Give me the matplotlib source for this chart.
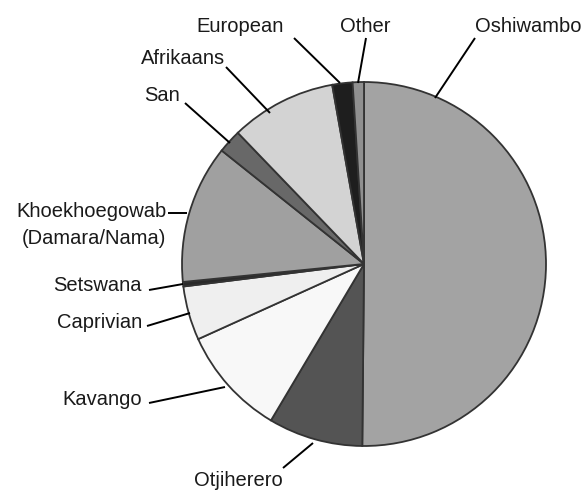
import matplotlib
matplotlib.use("Agg")
import matplotlib.pyplot as plt

# language shares (percent), clockwise from the top
languages = ["Oshiwambo", "Otjiherero", "Kavango", "Caprivian", "Setswana",
             "Khoekhoegowab\n(Damara/Nama)", "San", "Afrikaans", "European", "Other"]
shares = [50.2, 8.4, 9.7, 4.8, 0.4, 12.3, 2.1, 9.4, 1.8, 1.0]
shades = ["#a3a3a3", "#545454", "#f8f8f8", "#efefef", "#2a2a2a",
          "#a0a0a0", "#686868", "#d3d3d3", "#1e1e1e", "#909090"]

W, H = 586, 492

# label layout in pixel coords from the top-left corner:
# (text x, text baseline y, ha, leader start, leader end)
label_layout = {
    "Oshiwambo": (475, 32, "left", (475, 38), (435, 98)),
    "Otjiherero": (238, 486, "center", (283, 468), (313, 443)),
    "Kavango": (142, 405, "right", (149, 403), (225, 387)),
    "Caprivian": (142, 328, "right", (147, 326), (190, 313)),
    "Setswana": (142, 291, "right", (149, 290), (183, 284)),
    "Khoekhoegowab\n(Damara/Nama)": (167, 217, "right", (168, 213), (187, 213)),
    "San": (162, 101, "center", (185, 103), (230, 143)),
    "Afrikaans": (183, 64, "center", (226, 67), (270, 113)),
    "European": (240, 32, "center", (294, 38), (340, 83)),
    "Other": (365, 32, "center", (366, 38), (358, 83)),
}

plt.rcParams['font.family'] = ['Liberation Sans', 'DejaVu Sans']

fig = plt.figure(figsize=(W / 100, H / 100), dpi=100)
ax = fig.add_axes([0, 0, 1, 1])


def px(x, y):
    return x, H - y


ax.pie(shares, colors=shades, startangle=90, counterclock=False,
       center=px(364, 264), radius=182, frame=True,
       wedgeprops=dict(edgecolor="#333333", linewidth=1.3))
ax.set_xlim(0, W)
ax.set_ylim(0, H)
ax.set_aspect('equal')
ax.axis('off')

for name in languages:
    tx, ty, ha, p0, p1 = label_layout[name]
    (x0, y0), (x1, y1) = px(*p0), px(*p1)
    ax.plot([x0, x1], [y0, y1], color="black", lw=1.4, solid_capstyle="butt")
    lines = name.split("\n")
    for i, line in enumerate(lines):
        ax.text(*px(tx - (1 if i else 0), ty + 27 * i), line, ha=ha,
                va="baseline", fontsize=14.5, color="#1a1a1a")

fig.savefig("out.png", dpi=100)
